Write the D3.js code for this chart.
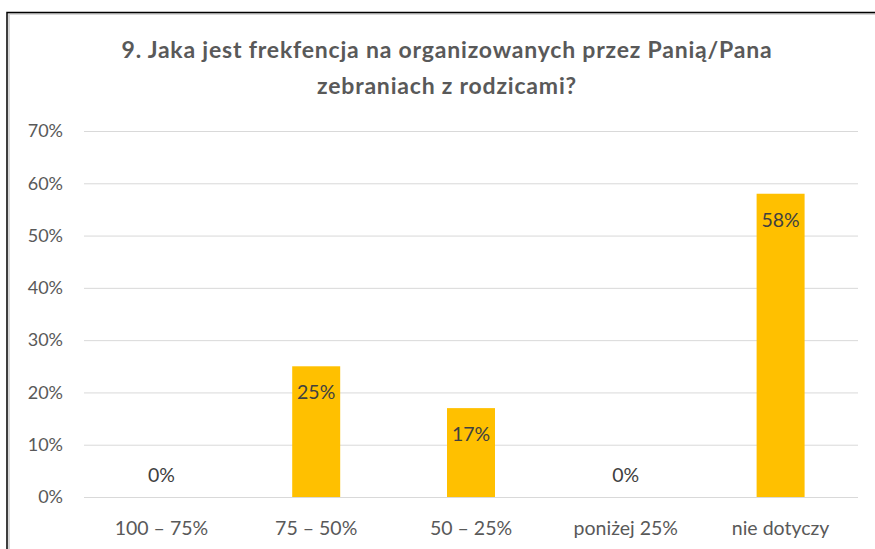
<!DOCTYPE html>
<html>
<head>
<meta charset="utf-8">
<script src="https://cdn.jsdelivr.net/npm/d3@7"></script>
<style>
  body { margin: 0; background: #fff; }
  svg { display: block; font-family: Lato, "Open Sans", sans-serif; }
</style>
</head>
<body>
<div id="chart"></div>
<script>
const titleLines = ['9. Jaka jest frekfencja na organizowanych przez Panią/Pana', 'zebraniach z rodzicami?']
const categories = ['100 – 75%', '75 – 50%', '50 – 25%', 'poniżej 25%', 'nie dotyczy']
const values = [0, 0.25, 0.17, 0, 0.58]
const yTicks = [0, 0.1, 0.2, 0.3, 0.4, 0.5, 0.6, 0.7]

const width = 875
const height = 549
const margin = { top: 131, right: 17, bottom: 52, left: 84 }

const svg = d3.select('#chart')
    .append('svg')
    .attr('width', width)
    .attr('height', height)

// frame of the chart area with a soft inner shadow
svg.append('rect')
    .attr('x', 9).attr('y', 14)
    .attr('width', width).attr('height', height)
    .attr('fill', 'none')
    .attr('stroke', '#d8d8d8')
    .attr('stroke-width', 2)
svg.append('rect')
    .attr('x', 7).attr('y', 12.5)
    .attr('width', width).attr('height', height)
    .attr('fill', 'none')
    .attr('stroke', '#000')
    .attr('stroke-width', 1.5)

const x = d3.scaleBand()
    .domain(categories)
    .range([margin.left, width - margin.right])
    .paddingInner(0.69)
    .paddingOuter(0.345)

const y = d3.scaleLinear()
    .domain([0, 0.7])
    .range([height - margin.bottom, margin.top])

svg.append('text')
    .attr('text-anchor', 'middle')
    .attr('fill', '#595959')
    .attr('font-weight', 'bold')
    .attr('font-size', 23)
    .attr('letter-spacing', 0.8)
    .selectAll('tspan')
    .data(titleLines)
    .enter()
    .append('tspan')
    .attr('x', 447)
    .attr('y', (d, i) => 58 + i * 36)
    .text((d) => d)

const yAxis = svg.append('g')
    .attr('transform', `translate(${margin.left}, 0)`)
    .call(d3.axisLeft(y)
        .tickValues(yTicks)
        .tickFormat(d3.format('.0%'))
        .tickSize(-(width - margin.left - margin.right))
        .tickPadding(21))
yAxis.select('.domain').remove()
yAxis.selectAll('line').attr('stroke', '#d9d9d9').attr('stroke-width', 1)
yAxis.selectAll('text')
    .attr('fill', '#595959')
    .attr('font-size', 18)
    .attr('font-family', 'Lato, sans-serif')

const xAxis = svg.append('g')
    .attr('transform', `translate(0, ${height - margin.bottom})`)
    .call(d3.axisBottom(x).tickSize(0).tickPadding(24))
xAxis.select('.domain').remove()
xAxis.selectAll('text')
    .attr('fill', '#595959')
    .attr('font-size', 19.5)
    .attr('font-family', 'Lato, sans-serif')

svg.selectAll('.bar')
    .data(values)
    .enter()
    .append('rect')
    .attr('class', 'bar')
    .attr('x', (d, i) => x(categories[i]))
    .attr('y', (d) => y(d))
    .attr('width', x.bandwidth())
    .attr('height', (d) => y(0) - y(d))
    .attr('fill', '#ffc000')

svg.selectAll('.label')
    .data(values)
    .enter()
    .append('text')
    .attr('class', 'label')
    .attr('x', (d, i) => x(categories[i]) + x.bandwidth() / 2)
    .attr('y', (d) => d > 0 ? y(d) + 33 : y(0) - 15)
    .attr('text-anchor', 'middle')
    .attr('fill', '#404040')
    .attr('font-size', 19.5)
    .text((d) => d3.format('.0%')(d))
</script>
</body>
</html>
